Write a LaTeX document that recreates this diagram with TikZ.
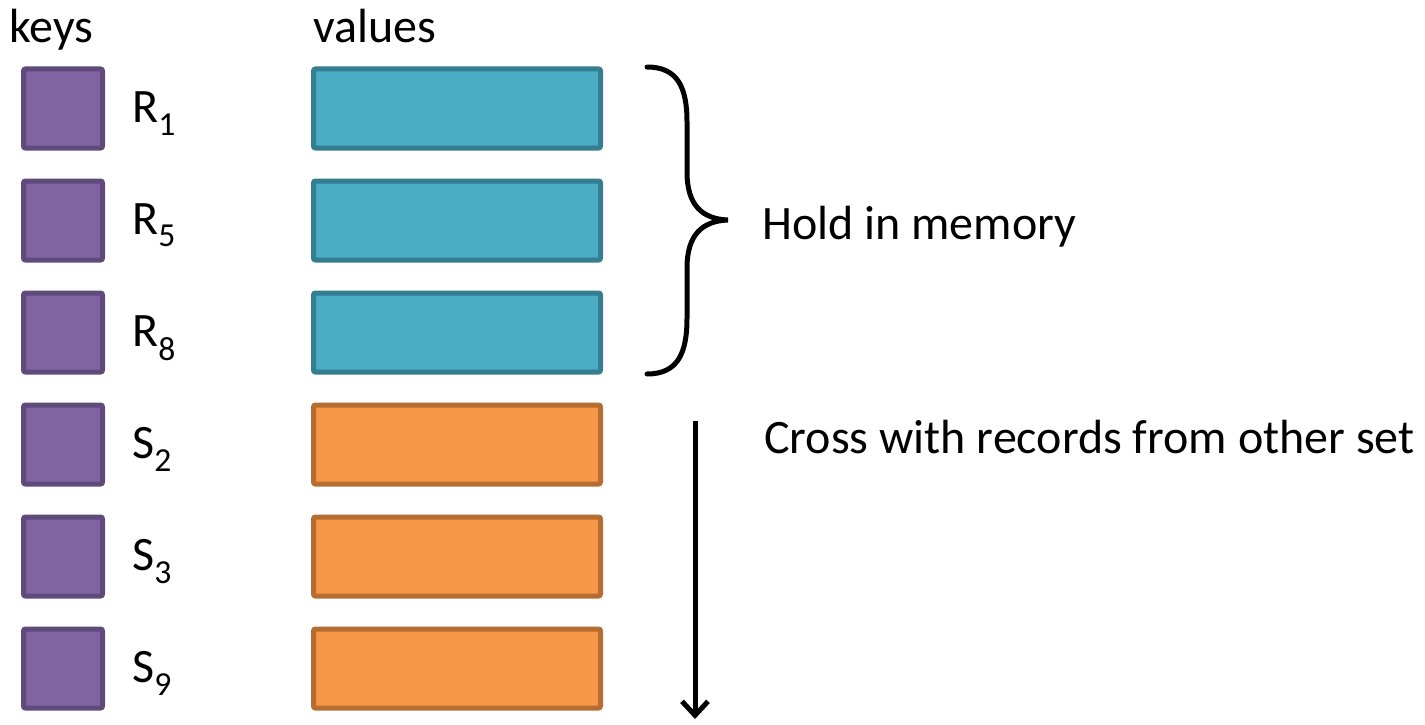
\documentclass[tikz,border=0pt]{standalone}
\usepackage{fontspec}
\setmainfont{Carlito}
\usetikzlibrary{arrows.meta}
\definecolor{keyfill}{HTML}{8064A2}
\definecolor{keyline}{HTML}{5F4A7B}
\definecolor{rfill}{HTML}{4BACC6}
\definecolor{rline}{HTML}{357D91}
\definecolor{sfill}{HTML}{F79646}
\definecolor{sline}{HTML}{B66D31}
\tikzset{
  txt/.style={inner sep=0pt, anchor=base west, font=\fontsize{48}{56}\selectfont},
  keybox/.style={draw=keyline, fill=keyfill, line width=5pt, rounded corners=2pt,
    minimum width=79pt, minimum height=79pt, inner sep=0pt},
  valbox/.style={line width=5pt, rounded corners=2pt,
    minimum width=287pt, minimum height=79pt, inner sep=0pt},
  rval/.style={valbox, draw=rline, fill=rfill},
  sval/.style={valbox, draw=sline, fill=sfill},
  bracestroke/.style={line width=5pt, line cap=round},
  flow/.style={line width=5pt, -{Straight Barb[length=14pt,width=26pt]}}
}
\begin{document}
\begin{tikzpicture}[x=1pt,y=-1pt]
  \useasboundingbox (0,0) rectangle (1425,725);

  % column headings
  \node[txt] (hkeys) at (9,43) {keys};
  \node[txt] (hvals) at (313,43) {values};

  % key squares, record labels and value bars
  \foreach \i/\lab/\sty in {0/R\textsubscript{1}/rval, 1/R\textsubscript{5}/rval,
                            2/R\textsubscript{8}/rval, 3/S\textsubscript{2}/sval,
                            4/S\textsubscript{3}/sval, 5/S\textsubscript{9}/sval} {
    \node[keybox] (k\i) at (63,{108.5+112*\i}) {};
    \node[txt] (l\i) at (132,{122+112*\i}) {\lab};
    \node[\sty] (v\i) at (457,{108.5+112*\i}) {};
  }

  % brace around the records kept in memory
  \coordinate (btop) at (647,67);
  \coordinate (btip) at (728,220);
  \coordinate (bbot) at (647,374);
  \draw[bracestroke] (btop) .. controls (678,67) and (687,88) .. (687,122)
    -- (687,172) .. controls (687,205) and (702,219) .. (btip)
    .. controls (702,221) and (687,235) .. (687,268)
    -- (687,318) .. controls (687,353) and (678,374) .. (bbot);
  \node[txt] (hold) at (762,239) {Hold in memory};

  % scan over the other set
  \coordinate (astart) at (695,421);
  \coordinate (aend) at (695,719);
  \draw[flow] (astart) -- (aend);
  \node[txt] (cross) at (764,453) {Cross with records from other set};
\end{tikzpicture}
\end{document}
